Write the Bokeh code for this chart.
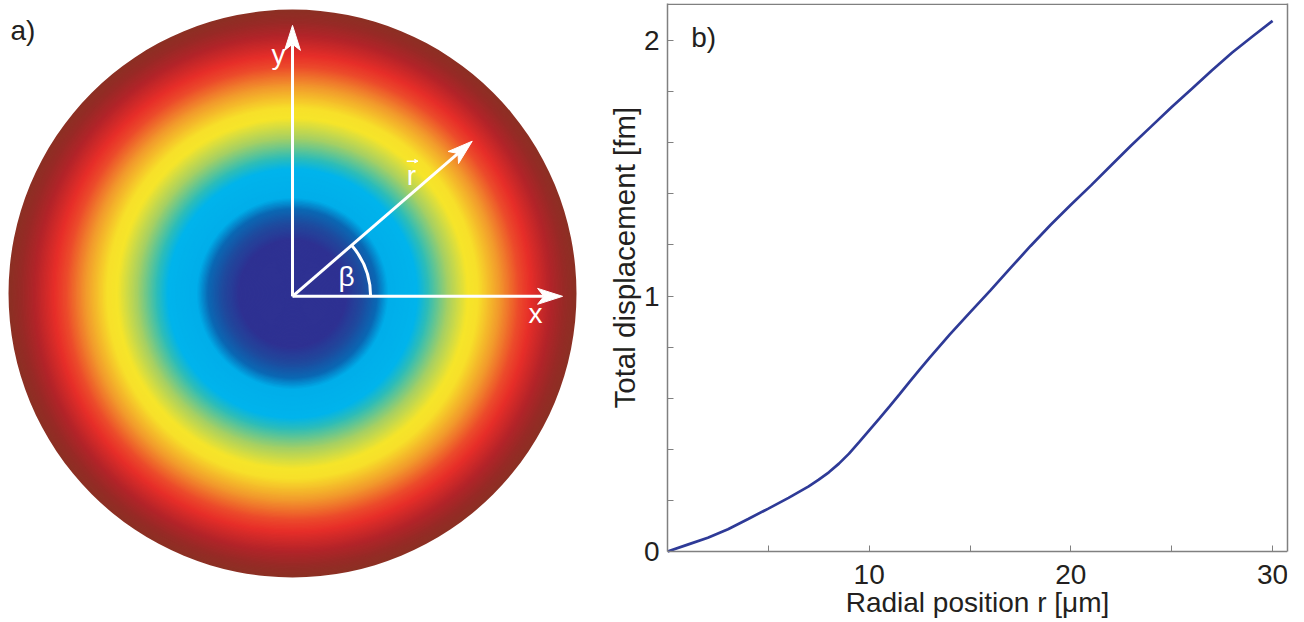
import numpy as np
from bokeh.plotting import figure
from bokeh.layouts import row
from bokeh.models import Range1d, FixedTicker, Label, Title, ColumnDataSource, Span, LinearAxis
from bokeh.embed import file_html
from bokeh.resources import INLINE
from bokeh.core.properties import value

# ---------------- data: panel b ----------------
radius_um = [0, 1, 2, 3, 4, 5, 6, 7, 7.5, 8, 8.5, 9, 9.5, 10, 10.5, 11, 11.5, 12, 12.5, 13, 14, 15,
             16, 17, 18, 19, 20, 21, 22, 23, 24, 25, 26, 27, 28, 29, 30]
displacement_fm = [0, 0.027, 0.054, 0.087, 0.127, 0.168, 0.21, 0.255, 0.281, 0.31, 0.344, 0.383,
                   0.428, 0.474, 0.52, 0.567, 0.615, 0.664, 0.712, 0.759, 0.85, 0.936,
                   1.021, 1.109, 1.196, 1.279, 1.357, 1.433, 1.512, 1.59, 1.665, 1.74,
                   1.811, 1.884, 1.953, 2.016, 2.077]
x_major = [10, 20, 30]
x_minor = [5, 15, 25]
y_major = [0, 1, 2]
y_minor = [0.2, 0.4, 0.6, 0.8, 1.2, 1.4, 1.6, 1.8]

# ---------------- data: panel a colour rings (radius fraction -> colour) -------------
ring_stops = [0.0, 0.19, 0.25, 0.30, 0.34, 0.44, 0.48, 0.55, 0.62, 0.655, 0.73, 0.80,
              0.84, 0.91, 0.96, 1.0]
ring_colors = ["#2E3192", "#2E3192", "#1F4A9E", "#0A68B4", "#00AEEA", "#00B4EC", "#2DBDB8",
               "#A6D063", "#F6E52A", "#F7E02A", "#F29A2C", "#EC4A2B", "#E72E29", "#B32429",
               "#972A26", "#8C3024"]
beta_deg = 40.8

FONT = "Liberation Sans"
TXT = "#231F20"
GREY = "#808080"


def hex2rgb(h):
    return np.array([int(h[i:i + 2], 16) for i in (1, 3, 5)], dtype=float)


def color_at(r):
    rgbs = np.array([hex2rgb(c) for c in ring_colors])
    out = [np.interp(r, ring_stops, rgbs[:, k]) for k in range(3)]
    return "#%02x%02x%02x" % tuple(int(round(v)) for v in out)


TOP, BOTTOM = 3, 0   # shared borders so both frames align

# ---------------- panel a ----------------
p1 = figure(width=600, height=622, x_range=Range1d(-1.0282, 1.0845), y_range=Range1d(-1.1585, 1.0211),
            output_backend="svg", toolbar_location=None, min_border_left=0, min_border_right=0,
            min_border_top=TOP, min_border_bottom=BOTTOM,
            x_axis_type=None, y_axis_type=None)
p1.grid.visible = False
p1.outline_line_color = None

n_rings = 220
rr = np.linspace(1.0, 1.0 / n_rings, n_rings)
src = ColumnDataSource(dict(x=np.zeros(n_rings), y=np.zeros(n_rings), r=rr,
                            c=[color_at(v) for v in rr]))
p1.circle(x="x", y="y", radius="r", fill_color="c", line_color=None, source=src)

ox, oy = 0.0, -0.01


def draw_arrow(fig, x0, y0, x1, y1, L=0.088, W=0.028, notch=0.022, lw=3):
    u = np.array([x1 - x0, y1 - y0])
    u = u / np.hypot(*u)
    n = np.array([-u[1], u[0]])
    tip = np.array([x1, y1])
    base = tip - L * u
    nt = tip - (L - notch) * u
    fig.segment(x0=[x0], y0=[y0], x1=[nt[0]], y1=[nt[1]], line_color="white", line_width=lw)
    xs = [tip[0], (base + W * n)[0], nt[0], (base - W * n)[0]]
    ys = [tip[1], (base + W * n)[1], nt[1], (base - W * n)[1]]
    fig.patch(xs, ys, fill_color="white", line_color="white", line_width=1)


b = np.deg2rad(beta_deg)
draw_arrow(p1, ox, oy, ox, 0.944)
draw_arrow(p1, ox, oy, 0.951, oy)
draw_arrow(p1, ox, oy, ox + 0.836 * np.cos(b), oy + 0.836 * np.sin(b))
p1.arc(x=[ox], y=[oy], radius=0.275, start_angle=0, end_angle=b, line_color="white", line_width=3)

# r-vector accent
draw_arrow(p1, 0.402, 0.466, 0.442, 0.466, L=0.012, W=0.006, notch=0.003, lw=1.5)

for txt, tx, ty in [("y", -0.049, 0.84), ("x", 0.856, -0.07), ("r", 0.419, 0.415), ("β", 0.19, 0.06)]:
    p1.text(x=[tx], y=[ty], text=[txt], text_color="white", text_font=value(FONT),
            text_font_size="28px", text_align="center", text_baseline="middle")
p1.text(x=[-0.993], y=[0.926], text=["a)"], text_color=TXT, text_font=value(FONT),
        text_font_size="28px", text_align="left", text_baseline="middle")

# ---------------- panel b ----------------
Y_TOP = 2.145
p2 = figure(width=704, height=622, x_range=Range1d(0, 30.74), y_range=Range1d(-0.2779, Y_TOP),
            output_backend="svg", toolbar_location=None,
            min_border_left=67, min_border_right=17, min_border_top=TOP, min_border_bottom=BOTTOM)
p2.grid.visible = False
p2.outline_line_color = None

p2.line(radius_um, displacement_fm, line_color="#2E3A97", line_width=2.7)

p2.xaxis.ticker = FixedTicker(ticks=x_major, minor_ticks=x_minor)
p2.yaxis.ticker = FixedTicker(ticks=y_major, minor_ticks=y_minor)
p2.xaxis.fixed_location = 0
p2.yaxis.bounds = (0, Y_TOP)
for ax in (p2.xaxis, p2.yaxis):
    ax.axis_line_color = GREY
    ax.axis_line_width = 1.5
    ax.major_tick_line_color = GREY
    ax.minor_tick_line_color = GREY
    ax.major_tick_in = 6
    ax.major_tick_out = 0
    ax.minor_tick_in = 6
    ax.minor_tick_out = 0
    ax.major_label_text_font = FONT
    ax.major_label_text_font_size = "28px"
    ax.major_label_text_color = TXT
p2.xaxis.major_label_standoff = 13
p2.yaxis.major_label_standoff = 8
p2.xaxis.axis_label = "Radial position r [μm]"
p2.xaxis.axis_label_text_font = FONT
p2.xaxis.axis_label_text_font_size = "28px"
p2.xaxis.axis_label_text_font_style = "normal"
p2.xaxis.axis_label_text_color = TXT
p2.xaxis.axis_label_standoff = 0

# right and top frame lines
right_ax = LinearAxis(ticker=FixedTicker(ticks=[]), bounds=(0, Y_TOP), axis_line_color=GREY,
                      axis_line_width=1.5, major_tick_out=0, major_tick_in=0,
                      minor_tick_out=0, minor_tick_in=0, major_label_standoff=0)
p2.add_layout(right_ax, "right")
p2.add_layout(Span(location=Y_TOP - 0.003, dimension="width", line_color=GREY, line_width=1.5))

p2.add_layout(Title(text="Total displacement [fm]", align="left", text_font=FONT,
                    text_font_size="29.5px", text_font_style="normal", text_color=TXT,
                    offset=214, standoff=0), "left")

p2.add_layout(Label(x=1.18, y=2.01, text="b)", text_font=FONT, text_font_size="28px",
                    text_color=TXT, text_baseline="middle"))

layout = row(p1, p2)
open("out.html", "w").write(file_html(layout, INLINE))
